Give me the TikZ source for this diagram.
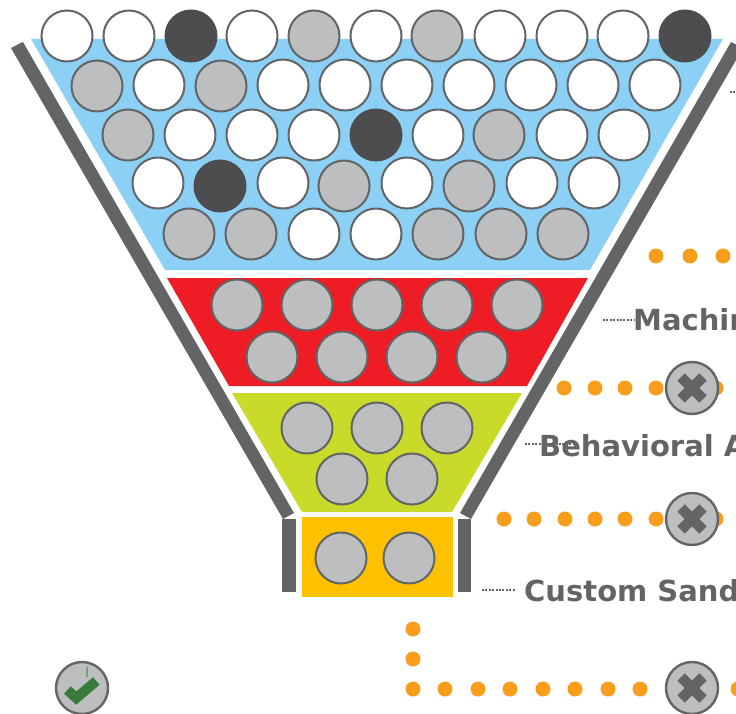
\documentclass[tikz,border=0pt]{standalone}
\usepackage{fontspec}
\setmainfont{DejaVu Sans}
\usepackage{tikz}
\definecolor{wallgray}{HTML}{636466}
\definecolor{holegray}{HTML}{BCBEC0}
\definecolor{holedark}{HTML}{4D4D4F}
\definecolor{tierblue}{HTML}{8CD1F5}
\definecolor{tierred}{HTML}{EE1C25}
\definecolor{tiergreen}{HTML}{C9DA2A}
\definecolor{tierorange}{HTML}{FFC000}
\definecolor{dotorange}{HTML}{F99D1C}
\definecolor{passgreen}{HTML}{387A3A}
\tikzstyle{free}=[circle,inner sep=0pt,minimum size=51pt,line width=2pt,draw=wallgray,fill=white]
\tikzstyle{held}=[free,fill=holegray]
\tikzstyle{hit}=[circle,inner sep=0pt,minimum size=53pt,fill=holedark]
\tikzstyle{dot}=[circle,inner sep=0pt,minimum size=15pt,fill=dotorange]
\tikzstyle{badge}=[circle,inner sep=0pt,minimum size=52pt,line width=2.4pt,draw=wallgray,fill=holegray]
\tikzstyle{blocked}=[badge,path picture={
    \draw[wallgray,line width=10.5pt] ([shift={(-11,-11)}]path picture bounding box.center) -- ([shift={(11,11)}]path picture bounding box.center);
    \draw[wallgray,line width=10.5pt] ([shift={(-11,11)}]path picture bounding box.center) -- ([shift={(11,-11)}]path picture bounding box.center);}]
\tikzstyle{passed}=[badge,path picture={
    \draw[passgreen,line width=10pt] ([shift={(-14.6,2)}]path picture bounding box.center) -- ([shift={(-5.7,10)}]path picture bounding box.center) -- ([shift={(14.3,-7)}]path picture bounding box.center);
    \draw[passgreen!70!white,line width=2pt] ([shift={(5.3,-21.3)}]path picture bounding box.center) -- ([shift={(5.3,-11)}]path picture bounding box.center);}]
\tikzstyle{tag}=[anchor=base west,inner sep=0pt,text=wallgray,font=\fontsize{29}{32}\selectfont\bfseries]
\tikzstyle{leader}=[wallgray,line width=2.4pt,dash pattern=on 2pt off 1.4pt]

\begin{document}
\begin{tikzpicture}[x=1pt,y=-1pt]
    \useasboundingbox (0,0) rectangle (736,714);
    \clip (0,0) rectangle (736,714);
    % funnel walls
    \fill[wallgray] (11,48) -- (23,42) -- (294,513) -- (283,519) -- cycle;
    \fill[wallgray] (743,48) -- (731,42) -- (460,513) -- (471,519) -- cycle;
    \fill[wallgray] (282,519) rectangle (295.5,592);
    \fill[wallgray] (458,519) rectangle (471,592);
    % tiers
    \fill[tierblue] (31,39) -- (723,39) -- (590,270) -- (165,270) -- cycle;
    \fill[tierred] (167,278) -- (588,278) -- (527,386) -- (229,386) -- cycle;
    \fill[tiergreen] (232,393) -- (522,393) -- (452,512) -- (302,512) -- cycle;
    \fill[tierorange] (302,517) rectangle (453,597);
    % first row
    \node (A1) [free] at (67,36) {};
    \node (A2) [free] at (129,36) {};
    \node (A3) [hit] at (191,36) {};
    \node (A4) [free] at (252,36) {};
    \node (A5) [held] at (314,36) {};
    \node (A6) [free] at (376,36) {};
    \node (A7) [held] at (437,36) {};
    \node (A8) [free] at (500,36) {};
    \node (A9) [free] at (562,36) {};
    \node (A10) [free] at (623,36) {};
    \node (A11) [hit] at (685,36) {};
    % second row
    \node (B1) [held] at (97,86) {};
    \node (B2) [free] at (159,85) {};
    \node (B3) [held] at (221,86) {};
    \node (B4) [free] at (283,85) {};
    \node (B5) [free] at (345,85) {};
    \node (B6) [free] at (407,85) {};
    \node (B7) [free] at (469,85) {};
    \node (B8) [free] at (531,85) {};
    \node (B9) [free] at (593,85) {};
    \node (B10) [free] at (655,85) {};
    % third row
    \node (C1) [held] at (128,135) {};
    \node (C2) [free] at (190,135) {};
    \node (C3) [free] at (252,135) {};
    \node (C4) [free] at (314,135) {};
    \node (C5) [hit] at (376,135) {};
    \node (C6) [free] at (438,135) {};
    \node (C7) [held] at (499,135) {};
    \node (C8) [free] at (562,135) {};
    \node (C9) [free] at (624,135) {};
    % fourth row
    \node (D1) [free] at (158,183) {};
    \node (D2) [hit] at (220,186) {};
    \node (D3) [free] at (283,183) {};
    \node (D4) [held] at (344,186) {};
    \node (D5) [free] at (407,183) {};
    \node (D6) [held] at (469,186) {};
    \node (D7) [free] at (532,183) {};
    \node (D8) [free] at (594,183) {};
    % fifth row
    \node (E1) [held] at (189,234) {};
    \node (E2) [held] at (251,234) {};
    \node (E3) [free] at (314,234) {};
    \node (E4) [free] at (376,234) {};
    \node (E5) [held] at (438,234) {};
    \node (E6) [held] at (501,234) {};
    \node (E7) [held] at (563,234) {};
    % red tier
    \node (R1) [held] at (237,305) {};
    \node (R2) [held] at (307,305) {};
    \node (R3) [held] at (377,305) {};
    \node (R4) [held] at (447,305) {};
    \node (R5) [held] at (517,305) {};
    \node (R6) [held] at (272,357) {};
    \node (R7) [held] at (342,357) {};
    \node (R8) [held] at (412,357) {};
    \node (R9) [held] at (482,357) {};
    % green tier
    \node (G1) [held] at (307,428) {};
    \node (G2) [held] at (377,428) {};
    \node (G3) [held] at (447,428) {};
    \node (G4) [held] at (342,479) {};
    \node (G5) [held] at (412,479) {};
    % orange tier
    \node (O1) [held] at (341,558) {};
    \node (O2) [held] at (409,558) {};
    % dots
    \node (P1) [dot] at (656,256) {};
    \node (P2) [dot] at (690,256) {};
    \node (P3) [dot] at (723,256) {};
    \node (Q1) [dot] at (564,388) {};
    \node (Q2) [dot] at (595,388) {};
    \node (Q3) [dot] at (625,388) {};
    \node (Q4) [dot] at (656,388) {};
    \node (Q5) [dot] at (716,388) {};
    \node (S1) [dot] at (504,519) {};
    \node (S2) [dot] at (534,519) {};
    \node (S3) [dot] at (565,519) {};
    \node (S4) [dot] at (595,519) {};
    \node (S5) [dot] at (625,519) {};
    \node (S6) [dot] at (656,519) {};
    \node (S7) [dot] at (716,519) {};
    \node (T1) [dot] at (413,629) {};
    \node (T2) [dot] at (413,659) {};
    \node (T3) [dot] at (413,689) {};
    \node (T4) [dot] at (445,689) {};
    \node (T5) [dot] at (478,689) {};
    \node (T6) [dot] at (510,689) {};
    \node (T7) [dot] at (543,689) {};
    \node (T8) [dot] at (575,689) {};
    \node (T9) [dot] at (608,689) {};
    \node (T10) [dot] at (640,689) {};
    \node (T11) [dot] at (738,689) {};
    % badges
    \node (X1) [blocked] at (692,388) {};
    \node (X2) [blocked] at (692,519) {};
    \node (X3) [blocked] at (692,688) {};
    \node (V1) [passed] at (82,688) {};
    % labels
    \coordinate (Lm) at (603,320);
    \coordinate (Lmend) at (635,320);
    \coordinate (Lb) at (525,444);
    \coordinate (Lbend) at (575,444);
    \coordinate (Lc) at (482,590);
    \coordinate (Lcend) at (515,590);
    \coordinate (Lt) at (730,92);
    \coordinate (Ltend) at (736,92);
    \draw[leader] (Lm) -- (Lmend);
    \draw[leader] (Lb) -- (Lbend);
    \draw[leader] (Lc) -- (Lcend);
    \draw[leader] (Lt) -- (Ltend);
    \node (machine) [tag] at (633,330) {Machin};
    \node (behavioral) [tag] at (539,456) {Behavioral A};
    \node (custom) [tag] at (524,601) {Custom Sand};
\end{tikzpicture}
\end{document}
